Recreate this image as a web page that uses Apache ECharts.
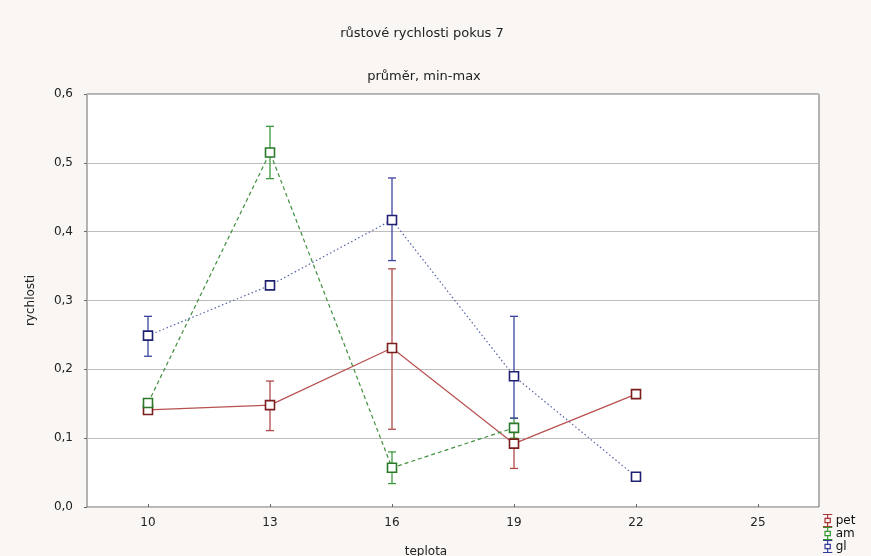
<!DOCTYPE html>
<html>
<head>
<meta charset="utf-8">
<script src="https://cdn.jsdelivr.net/npm/echarts@6/dist/echarts.min.js"></script>
<style>
  html, body { margin: 0; padding: 0; background: #f9f6f3; }
  #chart { width: 871px; height: 556px; }
</style>
</head>
<body>
<div id="chart"></div>
<script>
  // teploty (osa x)
  var teploty = [10, 13, 16, 19, 22];
  var xTicks = [10, 13, 16, 19, 22, 25];

  // pet
  var petPrumer = [0.141, 0.148, 0.231, 0.092, 0.164];
  var petMin = [null, 0.111, 0.113, 0.056, null];
  var petMax = [null, 0.183, 0.346, 0.12, null];

  // am
  var amPrumer = [0.151, 0.515, 0.057, 0.115, null];
  var amMin = [null, 0.477, 0.034, 0.1, null];
  var amMax = [null, 0.553, 0.08, 0.129, null];

  // gl
  var glPrumer = [0.249, 0.322, 0.417, 0.19, 0.044];
  var glMin = [0.219, null, 0.358, 0.129, null];
  var glMax = [0.277, null, 0.478, 0.277, null];

  var font = 'DejaVu Sans';

  function body(vals) {
    var out = [];
    for (var i = 0; i < teploty.length; i++) {
      if (vals[i] != null) out.push([teploty[i], vals[i]]);
    }
    return out;
  }
  function rozsah(mins, maxs) {
    var out = [];
    for (var i = 0; i < teploty.length; i++) {
      if (mins[i] != null) out.push([teploty[i], mins[i], maxs[i]]);
    }
    return out;
  }

  // chybove useky min-max
  function errSeries(name, data, color) {
    return {
      name: name,
      type: 'custom',
      z: 2,
      data: data,
      encode: { x: 0, y: [1, 2] },
      renderItem: function (params, api) {
        var x = api.value(0);
        var lo = api.coord([x, api.value(1)]);
        var hi = api.coord([x, api.value(2)]);
        var w = 4;
        var st = { stroke: color, lineWidth: 1.3 };
        return {
          type: 'group',
          children: [
            { type: 'line', shape: { x1: lo[0], y1: lo[1], x2: hi[0], y2: hi[1] }, style: st },
            { type: 'line', shape: { x1: lo[0] - w, y1: lo[1], x2: lo[0] + w, y2: lo[1] }, style: st },
            { type: 'line', shape: { x1: hi[0] - w, y1: hi[1], x2: hi[0] + w, y2: hi[1] }, style: st }
          ]
        };
      }
    };
  }

  function lineSeries(name, data, lineColor, markColor, dash) {
    return {
      name: name,
      type: 'line',
      z: 3,
      data: data,
      symbol: 'rect',
      symbolSize: 9,
      itemStyle: { color: '#fff', borderColor: markColor, borderWidth: 1.6 },
      lineStyle: { color: lineColor, width: 1.2, type: dash },
      emphasis: { disabled: true }
    };
  }

  // ikona legendy: ctverecek s chybovym usekem
  var legendIcon = 'path://M0,0 L10,0 L10,1.2 L0,1.2 Z M4.4,1.2 L5.6,1.2 L5.6,4 L4.4,4 Z ' +
    'M1.5,4 L8.5,4 L8.5,10 L1.5,10 Z M2.8,5.3 L2.8,8.7 L7.2,8.7 L7.2,5.3 Z ' +
    'M4.4,10 L5.6,10 L5.6,12.8 L4.4,12.8 Z M0,12.8 L10,12.8 L10,14 L0,14 Z';

  var myChart = echarts.init(document.getElementById('chart'));
  var option = {
    backgroundColor: '#f9f6f3',
    animation: false,
    title: [
      { text: 'růstové rychlosti pokus 7', left: 417, top: 22, textAlign: 'center',
        textStyle: { fontFamily: font, fontSize: 13, fontWeight: 'normal', color: '#222' } },
      { text: 'průměr, min-max', left: 419, top: 65, textAlign: 'center',
        textStyle: { fontFamily: font, fontSize: 13, fontWeight: 'normal', color: '#222' } },
      { text: 'teplota', left: 421, top: 541, textAlign: 'center',
        textStyle: { fontFamily: font, fontSize: 12, fontWeight: 'normal', color: '#222' } }
    ],
    legend: {
      orient: 'vertical',
      left: 823,
      top: 514,
      padding: 0,
      itemGap: 0,
      itemWidth: 10,
      itemHeight: 13,
      icon: legendIcon,
      textStyle: { fontFamily: font, fontSize: 12, color: '#111', padding: [0, 0, 0, -2] },
      data: [
        { name: 'pet', itemStyle: { color: '#a83434', borderWidth: 0 } },
        { name: 'am', itemStyle: { color: '#2f9a2f', borderWidth: 0 } },
        { name: 'gl', itemStyle: { color: '#2f3a9a', borderWidth: 0 } }
      ]
    },
    grid: {
      left: 87, right: 52, top: 94, bottom: 49,
      show: true, backgroundColor: '#ffffff', borderColor: '#6a6a6a', borderWidth: 1
    },
    xAxis: {
      type: 'value',
      min: 8.5,
      max: 26.5,
      splitLine: { show: false },
      axisLine: { show: false },
      axisTick: { show: true, inside: true, length: 3, customValues: xTicks, lineStyle: { color: '#666' } },
      axisLabel: { customValues: xTicks, margin: 10, fontFamily: font, fontSize: 12, color: '#222' }
    },
    yAxis: {
      type: 'value',
      min: 0,
      max: 0.6,
      interval: 0.1,
      name: 'rychlosti',
      nameLocation: 'middle',
      nameGap: 50,
      nameTextStyle: { fontFamily: font, fontSize: 12, color: '#222' },
      axisLine: { show: false },
      axisTick: { show: true, length: 3, lineStyle: { color: '#666' } },
      splitLine: { lineStyle: { color: '#bdbdbd', width: 1 } },
      axisLabel: {
        margin: 14, fontFamily: font, fontSize: 12, color: '#222',
        formatter: function (v) { return v.toFixed(1).replace('.', ','); }
      }
    },
    series: [
      errSeries('pet_err', rozsah(petMin, petMax), '#b04a4a'),
      errSeries('am_err', rozsah(amMin, amMax), '#3e9a3e'),
      errSeries('gl_err', rozsah(glMin, glMax), '#3c45a0'),
      lineSeries('pet', body(petPrumer), '#b85050', '#7a1e1e', 'solid'),
      lineSeries('am', body(amPrumer), '#3f8f3f', '#2a7a2a', [4, 3]),
      lineSeries('gl', body(glPrumer), '#5563a8', '#1e2070', [1.5, 2.5])
    ]
  };
  myChart.setOption(option);
</script>
</body>
</html>
